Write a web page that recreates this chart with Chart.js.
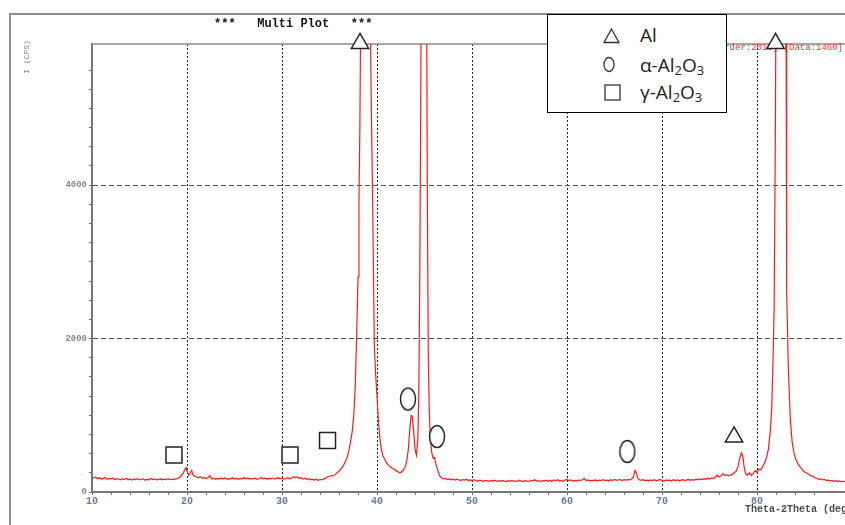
<!DOCTYPE html>
<html>
<head>
<meta charset="utf-8">
<script src="https://cdn.jsdelivr.net/npm/chart.js@4/dist/chart.umd.min.js"></script>
<style>
  html, body { margin: 0; padding: 0; background: #fff; }
  #wrap { position: relative; width: 845px; height: 525px; overflow: hidden; }
  #legend { position: absolute; left: 547px; top: 14px; width: 178px; height: 97px;
            border: 1px solid #000; background: #fff; color: #222;
            font-family: "Open Sans", sans-serif; font-size: 19px; }
  #legend svg { position: absolute; }
  #legend .lab { position: absolute; left: 92px; height: 24px; line-height: 24px; white-space: nowrap; }
  #legend sub { font-size: 0.68em; vertical-align: -0.22em; line-height: 0; }
</style>
</head>
<body>
<div id="wrap">
  <canvas id="xrd" width="845" height="525"></canvas>
  <div id="legend">
    <svg style="left:55px;top:13px" width="18" height="16"><polygon points="8.5,1 16,14.5 1,14.5" fill="none" stroke="#333" stroke-width="1.3"/></svg>
    <span class="lab" style="top:8px">Al</span>
    <svg style="left:54px;top:41px" width="14" height="17"><ellipse cx="7" cy="8.5" rx="5" ry="7" fill="none" stroke="#333" stroke-width="1.3"/></svg>
    <span class="lab" style="top:38px">α-Al<sub>2</sub>O<sub>3</sub></span>
    <svg style="left:56px;top:69px" width="17" height="17"><rect x="1" y="1" width="15" height="15" fill="none" stroke="#333" stroke-width="1.3"/></svg>
    <span class="lab" style="top:65px">γ-Al<sub>2</sub>O<sub>3</sub></span>
  </div>
</div>
<script>
// scan (2theta in deg, intensity in CPS)
const twoTheta = [
  10.0, 10.2, 10.4, 10.6, 10.8, 11.0, 11.2, 11.4, 11.6, 11.8,
  12.0, 12.2, 12.4, 12.6, 12.8, 13.0, 13.2, 13.4, 13.6, 13.8,
  14.0, 14.2, 14.4, 14.6, 14.8, 15.0, 15.2, 15.4, 15.6, 15.8,
  16.0, 16.2, 16.4, 16.6, 16.8, 17.0, 17.2, 17.4, 17.6, 17.8,
  18.0, 18.2, 18.4, 18.6, 18.8, 19.0, 19.2, 19.4, 19.6, 19.8,
  19.9, 20.0, 20.2, 20.4, 20.5, 20.6, 20.8, 21.0, 21.2, 21.4,
  21.6, 21.8, 22.0, 22.2, 22.4, 22.6, 22.8, 23.0, 23.2, 23.4,
  23.6, 23.8, 24.0, 24.2, 24.4, 24.6, 24.8, 25.0, 25.2, 25.4,
  25.6, 25.8, 26.0, 26.2, 26.4, 26.6, 26.8, 27.0, 27.2, 27.4,
  27.6, 27.8, 28.0, 28.2, 28.4, 28.6, 28.8, 29.0, 29.2, 29.4,
  29.6, 29.8, 30.0, 30.2, 30.4, 30.6, 30.8, 31.0, 31.2, 31.4,
  31.6, 31.8, 32.0, 32.2, 32.4, 32.6, 32.8, 33.0, 33.2, 33.4,
  33.6, 33.8, 34.0, 34.2, 34.4, 34.6, 34.8, 35.0, 35.2, 35.4,
  35.6, 35.8, 36.0, 36.2, 36.4, 36.6, 36.8, 37.0, 37.2, 37.4,
  37.55, 37.7, 37.85, 38.0, 38.1, 38.2, 38.28, 38.5, 38.9, 39.25,
  39.4, 39.55, 39.65, 39.72, 39.85, 40.0, 40.15, 40.3, 40.45, 40.6,
  40.8, 41.0, 41.2, 41.4, 41.6, 41.8, 42.0, 42.2, 42.4, 42.6,
  42.8, 43.0, 43.15, 43.3, 43.45, 43.6, 43.7, 43.85, 44.0, 44.15,
  44.3, 44.4, 44.5, 44.6, 44.7, 44.95, 45.2, 45.3, 45.4, 45.5,
  45.6, 45.75, 45.9, 46.05, 46.15, 46.3, 46.45, 46.6, 46.8, 47.0,
  47.2, 47.4, 47.6, 47.8, 48.0, 48.2, 48.4, 48.6, 48.8, 49.0,
  49.2, 49.4, 49.6, 49.8, 50.0, 50.2, 50.4, 50.6, 50.8, 51.0,
  51.2, 51.4, 51.6, 51.8, 52.0, 52.2, 52.4, 52.6, 52.8, 53.0,
  53.2, 53.4, 53.6, 53.8, 54.0, 54.2, 54.4, 54.6, 54.8, 55.0,
  55.2, 55.4, 55.6, 55.8, 56.0, 56.2, 56.4, 56.6, 56.8, 57.0,
  57.2, 57.4, 57.6, 57.8, 58.0, 58.2, 58.4, 58.6, 58.8, 59.0,
  59.2, 59.4, 59.6, 59.8, 60.0, 60.2, 60.4, 60.6, 60.8, 61.0,
  61.2, 61.4, 61.6, 61.8, 62.0, 62.2, 62.4, 62.6, 62.8, 63.0,
  63.2, 63.4, 63.6, 63.8, 64.0, 64.2, 64.4, 64.6, 64.8, 65.0,
  65.2, 65.4, 65.6, 65.8, 66.0, 66.2, 66.4, 66.6, 66.8, 67.0,
  67.15, 67.3, 67.45, 67.6, 67.8, 68.0, 68.2, 68.4, 68.6, 68.8,
  69.0, 69.2, 69.4, 69.6, 69.8, 70.0, 70.2, 70.4, 70.6, 70.8,
  71.0, 71.2, 71.4, 71.6, 71.8, 72.0, 72.2, 72.4, 72.6, 72.8,
  73.0, 73.2, 73.4, 73.6, 73.8, 74.0, 74.2, 74.4, 74.6, 74.8,
  75.0, 75.2, 75.4, 75.6, 75.8, 76.0, 76.2, 76.4, 76.6, 76.8,
  77.0, 77.2, 77.4, 77.6, 77.8, 78.0, 78.2, 78.35, 78.5, 78.65,
  78.8, 79.0, 79.2, 79.4, 79.6, 79.8, 80.0, 80.2, 80.4, 80.6,
  80.8, 81.0, 81.2, 81.4, 81.55, 81.7, 81.8, 81.92, 82.02, 82.5,
  83.05, 83.12, 83.3, 83.5, 83.7, 83.9, 84.1, 84.3, 84.5, 84.7,
  84.9, 85.1, 85.3, 85.5, 85.7, 85.9, 86.1, 86.3, 86.5, 86.7,
  86.9, 87.1, 87.3, 87.5, 87.7, 87.9, 88.1, 88.3, 88.5, 88.7,
  88.9, 89.1, 89.3
];
const intensity = [
  190, 180, 195, 172, 185, 168, 178, 190, 165, 176,
  170, 182, 160, 174, 166, 158, 172, 163, 178, 160,
  168, 155, 170, 162, 175, 158, 166, 172, 154, 168,
  160, 176, 162, 170, 158, 165, 174, 160, 168, 162,
  172, 165, 160, 170, 168, 176, 190, 215, 250, 300,
  320, 270, 215, 260, 280, 230, 205, 195, 185, 200,
  178, 190, 175, 185, 215, 170, 180, 165, 176, 168,
  182, 170, 186, 165, 175, 172, 185, 168, 180, 166,
  178, 170, 188, 172, 182, 168, 176, 170, 180, 165,
  176, 190, 172, 180, 168, 178, 172, 182, 170, 178,
  186, 172, 180, 168, 176, 188, 172, 182, 200, 185,
  196, 178, 188, 170, 180, 165, 175, 160, 168, 155,
  170, 150, 165, 158, 172, 180, 200, 205, 215, 210,
  230, 250, 270, 300, 330, 380, 430, 520, 640, 800,
  1000, 1350, 2000, 2800, 3800, 4800, 6200, 9000, 9500, 6600,
  5000, 3700, 2600, 1900, 1550, 1250, 920, 700, 560, 480,
  430, 380, 350, 330, 310, 300, 275, 265, 250, 262,
  290, 340, 420, 560, 820, 1000, 990, 800, 560, 480,
  700, 1300, 2800, 5000, 8000, 9200, 7200, 3800, 1750, 1050,
  720, 520, 440, 450, 390, 320, 260, 210, 185, 170,
  178, 162, 170, 158, 166, 155, 168, 160, 150, 162,
  155, 168, 150, 158, 146, 160, 150, 142, 155, 148,
  140, 152, 145, 138, 150, 143, 155, 140, 148, 138,
  150, 142, 135, 148, 140, 152, 138, 146, 140, 155,
  142, 136, 150, 142, 138, 152, 145, 160, 140, 150,
  135, 148, 142, 155, 140, 150, 136, 158, 145, 160,
  142, 152, 140, 155, 165, 148, 158, 142, 150, 145,
  156, 148, 160, 175, 150, 158, 145, 152, 148, 158,
  145, 155, 150, 162, 148, 155, 145, 160, 150, 165,
  152, 158, 162, 150, 160, 155, 162, 158, 170, 200,
  280, 250, 180, 160, 152, 160, 148, 155, 145, 158,
  150, 160, 145, 155, 165, 150, 140, 158, 148, 155,
  145, 160, 150, 158, 146, 155, 162, 150, 158, 165,
  152, 162, 155, 168, 158, 170, 162, 175, 165, 180,
  170, 185, 175, 190, 220, 195, 210, 240, 215, 225,
  210, 220, 230, 250, 270, 330, 450, 510, 470, 320,
  240, 220, 250, 215, 240, 280, 255, 300, 290, 330,
  380, 450, 560, 800, 1100, 1800, 2400, 4500, 7000, 9500,
  7000, 2600, 1600, 950, 650, 500, 420, 370, 330, 300,
  270, 255, 240, 225, 210, 200, 190, 175, 165, 170,
  158, 165, 150, 155, 145, 150, 140, 148, 136, 145,
  132, 140, 135
];

// peak markers (Al, alpha-Al2O3, gamma-Al2O3)
const alX = [38.21, 81.95, 77.58];
const alY = [5847, 5847, 717];
const alphaX = [43.26, 46.32, 66.35];
const alphaY = [1212, 723, 528];
const gammaX = [18.63, 30.84, 34.79];
const gammaY = [482, 482, 671];

const xTickLabels = [10, 20, 30, 40, 50, 60, 70, 80];
const yTickLabels = [0, 2000, 4000];

const toPoints = (xs, ys) => xs.map((x, i) => ({ x: x, y: ys[i] }));

function ellipseStyle() {
    const c = document.createElement('canvas');
    c.width = 18;
    c.height = 25;
    const g = c.getContext('2d');
    g.fillStyle = '#fff';
    g.strokeStyle = '#222';
    g.lineWidth = 1.5;
    g.beginPath();
    g.ellipse(9, 12.5, 7.5, 11, 0, 0, Math.PI * 2);
    g.fill();
    g.stroke();
    return c;
}

const mono = 'Liberation Mono';

const decor = {
    id: 'decor',
    beforeDatasetsDraw(chart) {
        const ctx = chart.ctx;
        const a = chart.chartArea;
        ctx.save();
        // outer frame
        ctx.strokeStyle = '#8c8c8c';
        ctx.lineWidth = 2;
        ctx.beginPath();
        ctx.moveTo(10, 525);
        ctx.lineTo(10, 14);
        ctx.lineTo(845, 14);
        ctx.stroke();
        // top border of the plot
        ctx.strokeStyle = '#8a8a8a';
        ctx.lineWidth = 1.5;
        ctx.beginPath();
        ctx.moveTo(a.left, a.top);
        ctx.lineTo(845, a.top);
        ctx.stroke();

        ctx.textBaseline = 'middle';
        ctx.fillStyle = '#111';
        ctx.font = 'bold 12px "' + mono + '"';
        ctx.fillText('***   Multi Plot   ***', 214, 24);

        ctx.fillStyle = '#ff3030';
        ctx.font = '9px "' + mono + '"';
        ctx.textAlign = 'right';
        ctx.fillText('[Order:2019] [Data:1460]', 843, 48);

        ctx.textAlign = 'left';
        ctx.fillStyle = '#4a4a4a';
        ctx.font = 'bold 10px "' + mono + '"';
        ctx.fillText('Theta-2Theta (deg)', 745, 509);

        ctx.translate(27, 57);
        ctx.rotate(-Math.PI / 2);
        ctx.textAlign = 'center';
        ctx.fillStyle = '#7a7f90';
        ctx.font = '8px "' + mono + '"';
        ctx.fillText('I (CPS)', 0, 0);
        ctx.restore();
    }
};

const ctx = document.querySelector('#xrd').getContext('2d');
new Chart(ctx, {
    type: 'scatter',
    data: {
        datasets: [{
            label: 'Al',
            data: toPoints(alX, alY),
            pointStyle: 'triangle',
            pointRadius: 10,
            backgroundColor: '#fff',
            borderColor: '#222',
            borderWidth: 1.5,
            clip: false,
            order: 0
        }, {
            label: 'alpha-Al2O3',
            data: toPoints(alphaX, alphaY),
            pointStyle: ellipseStyle(),
            clip: false,
            order: 0
        }, {
            label: 'gamma-Al2O3',
            data: toPoints(gammaX, gammaY),
            pointStyle: 'rect',
            pointRadius: 11.3,
            backgroundColor: '#fff',
            borderColor: '#222',
            borderWidth: 1.5,
            clip: false,
            order: 0
        }, {
            label: 'scan',
            data: toPoints(twoTheta, intensity),
            showLine: true,
            borderColor: '#ff1a1a',
            borderWidth: 1.2,
            pointRadius: 0,
            tension: 0,
            order: 1
        }]
    },
    options: {
        responsive: false,
        animation: false,
        events: [],
        layout: { padding: { top: 44, left: 0, right: 0, bottom: 0 }, autoPadding: false },
        plugins: {
            legend: { display: false },
            tooltip: { enabled: false }
        },
        scales: {
            x: {
                type: 'linear',
                min: 10,
                max: 89.26,
                afterFit: (s) => { s.height = 33; s.paddingLeft = 0; s.paddingRight = 0; },
                ticks: {
                    stepSize: 2,
                    autoSkip: false,
                    maxRotation: 0,
                    padding: 0,
                    color: '#6b7b98',
                    font: { family: mono, size: 10, weight: 'bold' },
                    callback: (v) => xTickLabels.includes(v) ? String(v) : ''
                },
                grid: {
                    color: (c) => (c.tick && c.tick.value > 10 && c.tick.value % 10 === 0) ? '#222' : 'rgba(0,0,0,0)',
                    tickColor: (c) => (c.tick && Number.isInteger(c.tick.value)) ? '#666' : 'rgba(0,0,0,0)',
                    tickLength: 3,
                    lineWidth: 1
                },
                border: { color: '#777', width: 2, dash: [2, 2] }
            },
            y: {
                min: 0,
                max: 5840,
                afterFit: (s) => { s.width = 92; s.paddingTop = 0; s.paddingBottom = 0; },
                ticks: {
                    stepSize: 250,
                    autoSkip: false,
                    padding: 2,
                    color: '#888',
                    font: { family: mono, size: 9, weight: 'bold' },
                    callback: (v) => yTickLabels.includes(v) ? String(v) : ''
                },
                grid: {
                    color: (c) => (c.tick && c.tick.value > 0 && yTickLabels.includes(c.tick.value)) ? '#555' : 'rgba(0,0,0,0)',
                    tickColor: (c) => (c.tick && c.tick.value % 250 === 0) ? '#666' : 'rgba(0,0,0,0)',
                    tickLength: 3,
                    lineWidth: 1
                },
                border: { color: '#777', width: 2, dash: [5, 3] }
            }
        }
    },
    plugins: [decor]
});
</script>
</body>
</html>
